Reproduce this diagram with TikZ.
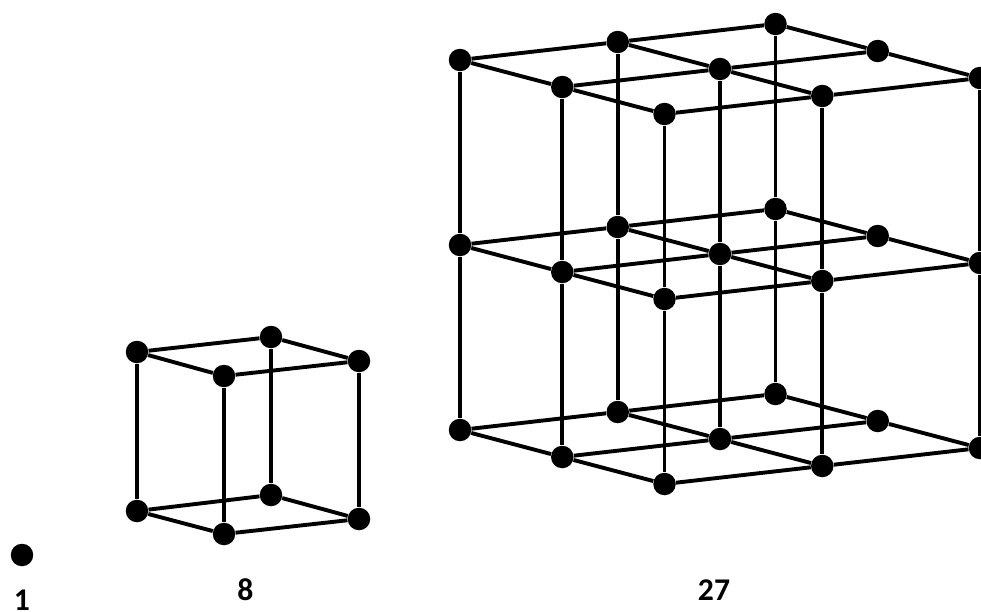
\documentclass[tikz,border=0pt]{standalone}
\usepackage{fontspec}
\setmainfont{Carlito}
\usepackage{tikz}

\begin{document}
\begin{tikzpicture}[
    x=0.02cm, y=-0.02cm,
    font=\bfseries\fontsize{18}{20}\selectfont,
    dot/.style   = {circle, fill=black, inner sep=0pt, minimum size=0.45cm},
    edge/.style  = {draw=black, line width=0.078cm},
    count/.style = {inner sep=0pt},
  ]
  \useasboundingbox (0,0) rectangle (981,612);
  \clip (0,0) rectangle (981,612);

  %% ---------- left: one point ----------
  \node[dot] (single) at (22,555) {};
  \node[count] (one) at (22,600) {1};

  %% ---------- middle: the 2x2x2 cube ----------
  \foreach \x/\y/\name in {137/352/tl, 271/337/tb, 359/361/tr, 224/376/tf,
                           137/511/bl, 271/495/bb, 359/519/br, 224/534/bf} {
    \node[dot] (\name) at (\x,\y) {};
  }
  \foreach \a/\b in {tl/tb, tb/tr, tr/tf, tf/tl, bl/bb, bb/br, br/bf, bf/bl,
                     tl/bl, tb/bb, tr/br, tf/bf} {
    \draw[edge] (\a) -- (\b);
  }
  \node[count] (eight) at (245.5,590) {8};

  %% ---------- right: the 3x3x3 lattice ----------
  % layer \k runs top to bottom, \i along the back-left edge, \j along the front-left edge
  \foreach \k in {0,1,2} {
    \foreach \i in {0,1,2} {
      \foreach \j in {0,1,2} {
        \node[dot] (p\i\j\k) at (460+157.75*\i+102.25*\j, 60-18*\i+27*\j+185*\k) {};
      }
    }
  }
  \foreach \k in {0,1,2} {
    \foreach \i in {0,1,2} {
      \draw[edge] (p\i0\k) -- (p\i1\k) -- (p\i2\k);
      \draw[edge] (p0\i\k) -- (p1\i\k) -- (p2\i\k);
    }
  }
  % the middle of the far right face has no upright
  \foreach \i/\j in {0/0, 1/0, 2/0, 0/1, 1/1, 0/2, 1/2, 2/2} {
    \draw[edge] (p\i\j0) -- (p\i\j1) -- (p\i\j2);
  }
  \node[count] (twentyseven) at (714,590) {27};
\end{tikzpicture}
\end{document}
